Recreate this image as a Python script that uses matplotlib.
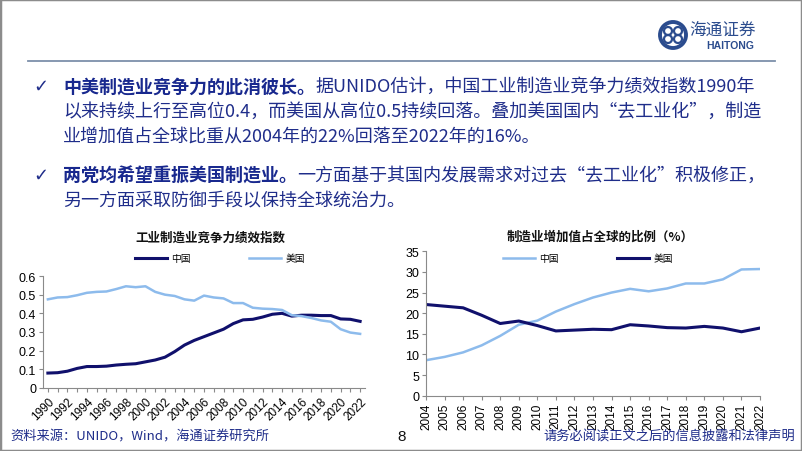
import matplotlib
matplotlib.use("Agg")
import matplotlib.pyplot as plt
from matplotlib.patches import Rectangle, Ellipse
from matplotlib.lines import Line2D

plt.rcParams['font.family'] = ['Noto Sans CJK SC', 'DejaVu Sans']

# 工业制造业竞争力绩效指数
years_a = list(range(1990, 2023))
cip_china = [0.080, 0.082, 0.090, 0.105, 0.115, 0.115, 0.117, 0.123, 0.127, 0.130,
             0.140, 0.150, 0.165, 0.195, 0.230, 0.255, 0.275, 0.295, 0.315, 0.345,
             0.365, 0.368, 0.380, 0.395, 0.400, 0.385, 0.390, 0.390, 0.388, 0.388,
             0.370, 0.368, 0.357]
cip_usa = [0.475, 0.485, 0.487, 0.497, 0.510, 0.515, 0.517, 0.530, 0.545, 0.540,
           0.545, 0.515, 0.500, 0.493, 0.475, 0.468, 0.495, 0.485, 0.480, 0.455,
           0.455, 0.430, 0.425, 0.423, 0.418, 0.390, 0.385, 0.375, 0.362, 0.355,
           0.315, 0.297, 0.290]

# 制造业增加值占全球的比例（%）
years_b = list(range(2004, 2023))
share_china = [8.6, 9.4, 10.5, 12.2, 14.5, 17.2, 18.2, 20.4, 22.2, 23.8,
               25.0, 25.9, 25.3, 26.0, 27.2, 27.2, 28.2, 30.6, 30.7]
share_usa = [22.1, 21.7, 21.3, 19.5, 17.5, 18.1, 17.0, 15.7, 15.9, 16.1,
             16.0, 17.2, 16.9, 16.5, 16.4, 16.8, 16.4, 15.5, 16.4]

DARK = "#10106c"
LIGHT = "#8dbbec"
NAVY = "#1f2d8a"
GRAY = "#8a8a8a"
LOGO = "#2b4c8e"
NUM_FONT = ['Liberation Sans', 'DejaVu Sans']

W, H = 802, 452
fig = plt.figure(figsize=(W / 100, H / 100), dpi=100)


def fx(px):
    return px / W


def fy(py):
    return 1 - py / H


def ring(cx, cy, r, lw):
    fig.patches.append(Ellipse((fx(cx), fy(cy)), 2 * r / W, 2 * r / H,
                               transform=fig.transFigure, fill=False,
                               edgecolor=LOGO, lw=lw))


# 幻灯片边框和页眉
fig.patches.append(Rectangle((0, 0), 1, 1, transform=fig.transFigure, fill=False,
                             edgecolor="#8c8c8c", linewidth=2.5))
fig.add_artist(Line2D([fx(28), fx(775)], [fy(62), fy(62)], color="#7d90aa", lw=1.3))

# 标志
ring(673, 36, 13, 2.8)
for dx, dy in [(-5, -4), (5, -4), (-5, 4), (5, 4)]:
    ring(673 + dx, 36 + dy, 4, 1.6)
fig.text(fx(723), fy(30), "海通证券", fontsize=12, color=LOGO, ha="center", va="center",
         style="italic")
fig.text(fx(730), fy(46), "HAITONG", fontsize=7.5, color=LOGO, ha="center", va="center",
         fontweight="bold", family=NUM_FONT)

# 正文
FS = 13
rows = [
    (87, "中美制造业竞争力的此消彼长。", "据UNIDO估计，中国工业制造业竞争力绩效指数1990年"),
    (112, "", "以来持续上行至高位0.4，而美国从高位0.5持续回落。叠加美国国内“去工业化”，制造"),
    (137, "", "业增加值占全球比重从2004年的22%回落至2022年的16%。"),
    (176, "两党均希望重振美国制造业。", "一方面基于其国内发展需求对过去“去工业化”积极修正，"),
    (201, "", "另一方面采取防御手段以保持全球统治力。"),
]
fig.text(fx(33), fy(87), "✓", fontsize=13, color=NAVY, va="center", family=['DejaVu Sans'])
fig.text(fx(33), fy(176), "✓", fontsize=13, color=NAVY, va="center", family=['DejaVu Sans'])
renderer = fig.canvas.get_renderer()
for y, bold, normal in rows:
    x0 = fx(63)
    if bold:
        t = fig.text(x0, fy(y), bold, fontsize=FS, color="#18288e", fontweight="bold",
                     va="center")
        x0 = t.get_window_extent(renderer).x1 / fig.bbox.width
    fig.text(x0, fy(y), normal, fontsize=FS, color=NAVY, va="center")

# 左图
ax1 = fig.add_axes([fx(43), fy(389), fx(365) - fx(43), fy(277) - fy(389)])
ax1.plot(years_a, cip_china, color=DARK, lw=2.2, solid_joinstyle="round", label="中国")
ax1.plot(years_a, cip_usa, color=LIGHT, lw=1.8, solid_joinstyle="round", label="美国")
ax1.set_xlim(1989.5, 2022.5)
ax1.set_ylim(0, 0.6)
ax1.set_yticks([0, 0.1, 0.2, 0.3, 0.4, 0.5, 0.6])
ax1.set_yticklabels(["0" if v == 0 else f"{v:.1f}" for v in [0, 0.1, 0.2, 0.3, 0.4, 0.5, 0.6]])
ax1.set_xticks(years_a[::2])
ax1.set_xticks(years_a, minor=True)
ax1.set_xticklabels([str(v) for v in years_a[::2]], rotation=45, ha="right",
                    rotation_mode="anchor")

# 右图
ax2 = fig.add_axes([fx(426), fy(396.7), fx(760) - fx(426), fy(252.3) - fy(396.7)])
ax2.plot(years_b, share_china, color=LIGHT, lw=1.8, solid_joinstyle="round", label="中国")
ax2.plot(years_b, share_usa, color=DARK, lw=2.2, solid_joinstyle="round", label="美国")
ax2.set_xlim(2004, 2022)
ax2.set_ylim(0, 35)
ax2.set_yticks(range(0, 36, 5))
ax2.set_xticks(years_b)
ax2.set_xticklabels([str(v) for v in years_b], rotation=90)

for ax in (ax1, ax2):
    for s in ("top", "right"):
        ax.spines[s].set_visible(False)
    for s in ("left", "bottom"):
        ax.spines[s].set_color(GRAY)
        ax.spines[s].set_linewidth(0.8)
    ax.tick_params(which="both", direction="out", length=3, width=0.8, color=GRAY,
                   labelsize=8.5, pad=2)
    ax.tick_params(axis="y", labelsize=9)
    for lab in ax.get_xticklabels() + ax.get_yticklabels():
        lab.set_family(NUM_FONT)

# 标题与图例
fig.text(fx(210), fy(238), "工业制造业竞争力绩效指数", fontsize=9, fontweight="bold",
         ha="center", va="center", color="#111111")
fig.text(fx(600), fy(237), "制造业增加值占全球的比例（%）", fontsize=9, fontweight="bold",
         ha="center", va="center", color="#111111")
ax1.legend(loc="center", bbox_to_anchor=(fx(220), fy(259)), bbox_transform=fig.transFigure,
           ncol=2, frameon=False, fontsize=7, handlelength=3.3, columnspacing=6,
           handletextpad=0.4)
ax2.legend(loc="center", bbox_to_anchor=(fx(588), fy(259)), bbox_transform=fig.transFigure,
           ncol=2, frameon=False, fontsize=7, handlelength=3.3, columnspacing=6,
           handletextpad=0.4)

# 页脚
fig.text(fx(10), fy(437), "资料来源：UNIDO，Wind，海通证券研究所", fontsize=9.5, color=NAVY,
         va="center")
fig.text(fx(402), fy(437), "8", fontsize=11, color="#111111", va="center", ha="center",
         family=NUM_FONT)
fig.text(fx(795), fy(437), "请务必阅读正文之后的信息披露和法律声明", fontsize=9.5, color=NAVY,
         va="center", ha="right")

fig.savefig("out.png", dpi=100)
